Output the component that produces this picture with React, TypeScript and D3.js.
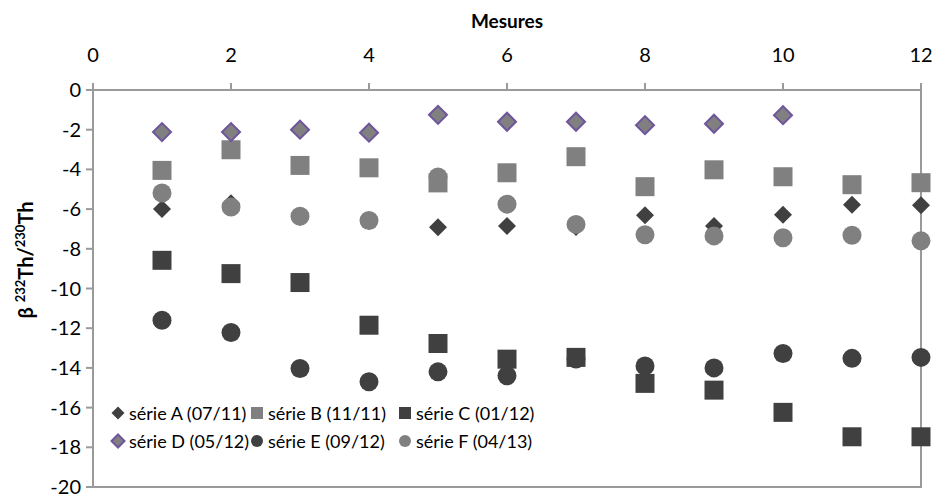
import * as d3 from "d3";
import React from "react";

// Measure numbers (x) and the six series (y)
const mesures = [1, 2, 3, 4, 5, 6, 7, 8, 9, 10, 11, 12];
const serieA = [-6.0, -5.7, -6.4, -6.6, -6.92, -6.85, -6.9, -6.31, -6.85, -6.28, -5.78, -5.81];
const serieB = [-4.05, -3.01, -3.8, -3.92, -4.68, -4.17, -3.36, -4.87, -4.02, -4.37, -4.77, -4.67];
const serieC = [-8.58, -9.25, -9.7, -11.85, -12.77, -13.56, -13.47, -14.78, -15.12, -16.24, -17.47, -17.47];
const serieD = [-2.12, -2.12, -2.0, -2.15, -1.25, -1.6, -1.6, -1.77, -1.7, -1.27];
const serieE = [-11.6, -12.22, -14.03, -14.7, -14.2, -14.4, -13.55, -13.9, -14.0, -13.27, -13.52, -13.47];
const serieF = [-5.19, -5.9, -6.36, -6.57, -4.38, -5.75, -6.77, -7.29, -7.35, -7.44, -7.32, -7.6];

const xTicks = [0, 2, 4, 6, 8, 10, 12];
const yTicks = [0, -2, -4, -6, -8, -10, -12, -14, -16, -18, -20];

type Shape = "diamond" | "square" | "circle";
interface Serie {
  name: string;
  values: number[];
  shape: Shape;
  fill: string;
  stroke?: string;
}

const DARK = "#404040";
const GREY = "#808080";
const PURPLE = "#6f559c";

const series: Serie[] = [
  { name: "série A (07/11)", values: serieA, shape: "diamond", fill: DARK },
  { name: "série B (11/11)", values: serieB, shape: "square", fill: GREY },
  { name: "série C (01/12)", values: serieC, shape: "square", fill: DARK },
  { name: "série D (05/12)", values: serieD, shape: "diamond", fill: GREY, stroke: PURPLE },
  { name: "série E (09/12)", values: serieE, shape: "circle", fill: DARK },
  { name: "série F (04/13)", values: serieF, shape: "circle", fill: GREY },
];

const FONT = "Lato, 'Open Sans', sans-serif";
const AXIS = "#9a9a9a";

// path for a marker of the given shape and "diameter"
const markerPath = (shape: Shape, d: number) => {
  if (shape === "circle") return d3.symbol(d3.symbolCircle, Math.PI * (d / 2) ** 2)()!;
  if (shape === "square") return d3.symbol(d3.symbolSquare, d * d)()!;
  const side = d / Math.SQRT2;
  return d3.symbol(d3.symbolSquare, side * side)()!;
};

const Marker: React.FC<{ s: Serie; x: number; y: number; d: number }> = ({ s, x, y, d }) => (
  <path
    d={markerPath(s.shape, d)}
    transform={`translate(${x},${y})${s.shape === "diamond" ? " rotate(45)" : ""}`}
    fill={s.fill}
    stroke={s.stroke ?? "none"}
    strokeWidth={s.stroke ? 2 : 0}
  />
);

const App: React.FC = () => {
  const width = 936;
  const height = 497;
  const margin = { top: 90, right: 15, bottom: 10, left: 93 };

  const x = d3.scaleLinear().domain([0, 12]).range([margin.left, width - margin.right]);
  const y = d3.scaleLinear().domain([-20, 0]).range([height - margin.bottom, margin.top]);

  const legendCols = [118, 257, 405];
  const legendRows = [413, 441];

  return (
    <svg width={width} height={height} style={{ position: "absolute", left: 0, top: 0 }}>
      <rect width={width} height={height} fill="#fff" />

      {/* plot frame */}
      <rect
        x={x(0)}
        y={y(0)}
        width={x(12) - x(0)}
        height={y(-20) - y(0)}
        fill="none"
        stroke={AXIS}
        strokeWidth={2}
      />

      {/* top x axis */}
      {xTicks.map((t) => (
        <g key={`x${t}`}>
          <line x1={x(t)} x2={x(t)} y1={y(0)} y2={y(0) - 7} stroke={AXIS} strokeWidth={2} />
          <text x={x(t)} y={62} textAnchor="middle" fontFamily={FONT} fontSize={20} fill="#000">
            {t}
          </text>
        </g>
      ))}
      <text x={(x(0) + x(12)) / 2} y={28} textAnchor="middle" fontFamily={FONT} fontSize={19} fontWeight="bold">
        Mesures
      </text>

      {/* left y axis */}
      {yTicks.map((t) => (
        <g key={`y${t}`}>
          <line x1={x(0) - 7} x2={x(0)} y1={y(t)} y2={y(t)} stroke={AXIS} strokeWidth={2} />
          <text x={81} y={y(t) + 7} textAnchor="end" fontFamily={FONT} fontSize={20} fill="#000">
            {t}
          </text>
        </g>
      ))}
      <text
        transform="translate(33,260) rotate(-90)"
        textAnchor="middle"
        fontFamily={FONT}
        fontSize={20}
        fontWeight="bold"
      >
        β <tspan fontSize={13} dy={-8}>232</tspan>
        <tspan dy={8}>Th/</tspan>
        <tspan fontSize={13} dy={-8}>230</tspan>
        <tspan dy={8}>Th</tspan>
      </text>

      {/* points */}
      {series.map((s) => (
        <g key={s.name}>
          {s.values.map((v, i) => (
            <Marker key={i} s={s} x={x(mesures[i])} y={y(v)} d={s.shape === "diamond" ? 18 : 19} />
          ))}
        </g>
      ))}

      {/* legend */}
      {series.map((s, i) => {
        const lx = legendCols[i % 3];
        const ly = legendRows[Math.floor(i / 3)];
        return (
          <g key={`leg${i}`}>
            <Marker s={s} x={lx} y={ly} d={s.shape === "diamond" ? 13 : 12} />
            <text x={lx + 11} y={ly + 7} fontFamily={FONT} fontSize={18} fill="#000">
              {s.name}
            </text>
          </g>
        );
      })}
    </svg>
  );
};

export default App;
